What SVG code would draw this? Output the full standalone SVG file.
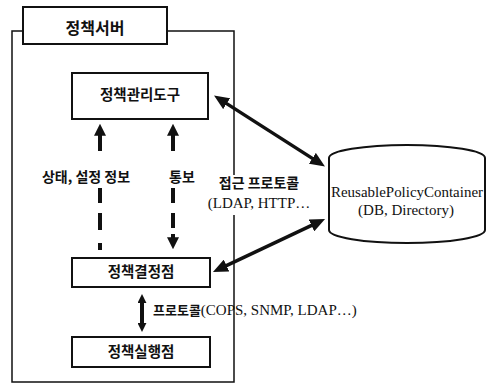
<svg xmlns="http://www.w3.org/2000/svg" width="489" height="383" viewBox="0 0 489 383">
<style>
.box{fill:#fff;stroke:#111;stroke-width:2}
.frame{fill:none;stroke:#111;stroke-width:1.5}
.ko{font-family:"Noto Sans CJK KR","Noto Sans",sans-serif;font-weight:bold;fill:#111}
.la{font-family:"Liberation Serif","Times New Roman",serif;fill:#111}
.conn{stroke:#111;fill:none}
</style>
<defs>
<marker id="headL" viewBox="0 0 10 10" refX="4" refY="5" markerWidth="15" markerHeight="13" markerUnits="userSpaceOnUse" orient="auto-start-reverse" preserveAspectRatio="none">
<path d="M0,0 L10,5 L0,10 z" fill="#111"/>
</marker>
<marker id="headM" viewBox="0 0 10 10" refX="4" refY="5" markerWidth="12" markerHeight="12" markerUnits="userSpaceOnUse" orient="auto-start-reverse" preserveAspectRatio="none">
<path d="M0,0 L10,5 L0,10 z" fill="#111"/>
</marker>
<marker id="headS" viewBox="0 0 10 10" refX="4" refY="5" markerWidth="9" markerHeight="9" markerUnits="userSpaceOnUse" orient="auto-start-reverse" preserveAspectRatio="none">
<path d="M0,0 L10,5 L0,10 z" fill="#111"/>
</marker>
</defs>
<rect width="489" height="383" fill="#fff"/>

<g id="server">
<path class="frame" d="M234,175 L234,31 L12,31 L12,382 L234,382 L234,215"/>
<rect class="box" x="23" y="7" width="144" height="37"/>
<text class="ko" x="95" y="34" font-size="16" text-anchor="middle">정책서버</text>
</g>

<g id="connectors">
<line class="conn" x1="100" y1="151" x2="100" y2="131" stroke-width="4" marker-end="url(#headM)"/>
<line class="conn" x1="173" y1="151" x2="173" y2="131" stroke-width="4" marker-end="url(#headM)"/>
<line class="conn" x1="100" y1="188" x2="100" y2="250" stroke-width="4" stroke-dasharray="15 10 17 13"/>
<line class="conn" x1="173" y1="188" x2="173" y2="229" stroke-width="4" stroke-dasharray="15 10"/>
<line class="conn" x1="173" y1="234" x2="173" y2="242" stroke-width="4" marker-end="url(#headM)"/>
<line class="conn" x1="221.6" y1="100.4" x2="317.4" y2="161.6" stroke-width="3.5" marker-start="url(#headL)" marker-end="url(#headL)"/>
<line class="conn" x1="221.1" y1="268.1" x2="316.9" y2="222.9" stroke-width="3.5" marker-start="url(#headL)" marker-end="url(#headL)"/>
<line class="conn" x1="142" y1="299.5" x2="142" y2="326.5" stroke-width="4" marker-start="url(#headS)" marker-end="url(#headS)"/>
<text class="ko" x="86" y="182" font-size="14" text-anchor="middle">상태, 설정 정보</text>
<text class="ko" x="182" y="182" font-size="14" text-anchor="middle">통보</text>
<text class="ko" x="259" y="188" font-size="14" text-anchor="middle">접근 프로토콜</text>
<text class="la" x="259" y="208" font-size="15" text-anchor="middle">(LDAP, HTTP…</text>
<text x="153" y="315"><tspan class="ko" font-size="13">프로토콜</tspan><tspan class="la" font-size="15">(COPS, SNMP, LDAP…)</tspan></text>
</g>

<g id="tool">
<rect class="box" x="72" y="73" width="136" height="46"/>
<text class="ko" x="140" y="100" font-size="14.5" text-anchor="middle">정책관리도구</text>
</g>

<g id="pdp">
<rect class="box" x="72" y="258" width="138" height="29"/>
<text class="ko" x="141" y="277" font-size="14.5" text-anchor="middle">정책결정점</text>
</g>

<g id="pep">
<rect class="box" x="72" y="337" width="138" height="30"/>
<text class="ko" x="141" y="357" font-size="14.5" text-anchor="middle">정책실행점</text>
</g>

<g id="container">
<path class="box" d="M329,158 A78,13 0 0 1 485,158 L485,230 A78,13 0 0 1 329,230 Z"/>
<text class="la" x="407" y="197" font-size="15" text-anchor="middle" textLength="152" lengthAdjust="spacingAndGlyphs">ReusablePolicyContainer</text>
<text class="la" x="406" y="215" font-size="15" text-anchor="middle">(DB, Directory)</text>
</g>
</svg>
